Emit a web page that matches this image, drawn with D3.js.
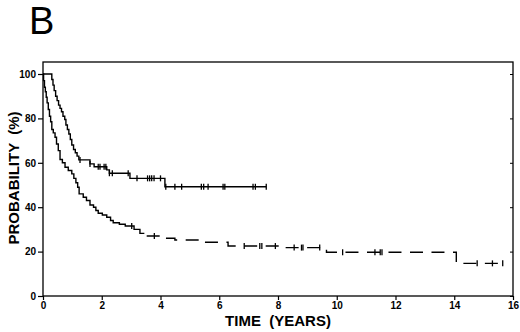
<!DOCTYPE html>
<html lang="en">
<head>
    <meta charset="UTF-8">
    <title>Survival curves B</title>
    <script src="https://cdn.jsdelivr.net/npm/d3@7/dist/d3.min.js" charset="utf-8"></script>
    <style>
        body { margin: 0; background: #fff; }
        text { font-family: Arial, "Liberation Sans", Helvetica, sans-serif; fill: #000; }
    </style>
</head>
<body>
<script>

    // axis ticks
    var xTicks = [0, 2, 4, 6, 8, 10, 12, 14, 16];
    var yTicks = [0, 20, 40, 60, 80, 100];

    // upper curve: step times (years) and survival (%) after each step
    var timesA = [0, 0.30, 0.34, 0.38, 0.43, 0.48, 0.53, 0.58, 0.63, 0.68, 0.74, 0.78, 0.83, 0.88, 0.93,
        0.98, 1.04, 1.10, 1.16, 1.22, 1.60, 1.74, 2.17, 2.26, 2.96, 4.15];
    var survA = [100, 97.5, 95, 92.5, 90, 88, 86, 84.5, 83, 81, 79.5, 77, 75, 73, 70.5,
        68, 66, 64.5, 63, 61.3, 59.5, 58.2, 56.8, 55.3, 53, 49.2];
    var censorA = [1.26, 1.6, 1.88, 1.94, 2.08, 2.14, 2.26, 2.36, 2.9, 3.2, 3.56, 3.63, 3.7, 3.78, 4.0,
        4.18, 4.49, 4.72, 5.39, 5.47, 5.62, 6.13, 6.19, 7.15, 7.23, 7.6];
    var endA = 7.6;

    // lower curve
    var timesB = [0, 0.02, 0.05, 0.08, 0.11, 0.14, 0.18, 0.22, 0.26, 0.30, 0.35, 0.41, 0.46, 0.52, 0.58,
        0.66, 0.75, 0.86, 0.98, 1.05, 1.12, 1.18, 1.23, 1.37, 1.48, 1.60, 1.72, 1.80, 1.88, 2.02,
        2.17, 2.30, 2.39, 2.60, 2.80, 3.10, 3.30, 3.50, 4.15, 4.49, 5.45, 6.30, 8.17, 9.65, 14.07];
    var survB = [100, 97, 94, 92, 89.5, 87, 84, 81, 78.5, 75, 73.5, 71.5, 68.5, 65.5, 61.5,
        60, 58, 56.5, 55, 53, 51, 49, 46, 44.5, 43, 41, 40, 38.5, 37.3, 36.5,
        35.5, 34, 33, 32.3, 31.5, 30, 28.2, 27, 26, 25.2, 24.2, 22.5, 21.8, 19.7, 14.7];
    var censorB = [3.02, 3.79, 6.85, 7.38, 7.45, 7.91, 8.55, 8.8, 8.85, 9.42, 10.2, 11.3, 11.48, 11.54,
        14.78, 15.3, 15.65];
    var endB = 15.65;
    var solidEndB = 3.45;   // lower curve is dashed after this

    // 画布
    var width = 520;
    var height = 332;
    var svg = d3.select("body")
        .append("svg")
        .attr("width", width)
        .attr("height", height);

    var plotLeft = 43, plotRight = 513, plotTop = 62, plotBottom = 296;

    var x = d3.scaleLinear().domain([0, 16]).range([plotLeft, plotRight]);
    var y = d3.scaleLinear().domain([0, 100]).range([plotBottom, 74]);

    // frame
    svg.append("rect")
        .attr("x", plotLeft)
        .attr("y", plotTop)
        .attr("width", plotRight - plotLeft)
        .attr("height", plotBottom - plotTop)
        .attr("fill", "none")
        .attr("stroke", "#000")
        .attr("stroke-width", 1.3);

    // y axis
    var yAxis = svg.append("g")
        .attr("transform", "translate(" + plotLeft + ",0)")
        .call(d3.axisLeft(y).tickValues(yTicks).tickSize(5).tickPadding(2));
    yAxis.select(".domain").remove();
    yAxis.selectAll("line").attr("stroke-width", 1.2);
    yAxis.selectAll("text")
        .style("font-size", "10px")
        .style("font-weight", "bold")
        .style("font-family", "Arial, 'Liberation Sans', sans-serif");

    // right side inner ticks
    var yRight = svg.append("g")
        .attr("transform", "translate(" + plotRight + ",0)")
        .call(d3.axisLeft(y).tickValues(yTicks).tickSize(3).tickFormat(""));
    yRight.select(".domain").remove();

    // x axis
    var xAxis = svg.append("g")
        .attr("transform", "translate(0," + plotBottom + ")")
        .call(d3.axisBottom(x).tickValues(xTicks).tickSize(4).tickPadding(2));
    xAxis.select(".domain").remove();
    xAxis.selectAll("line").attr("stroke-width", 1.2);
    xAxis.selectAll("text")
        .style("font-size", "10px")
        .style("font-weight", "bold")
        .style("font-family", "Arial, 'Liberation Sans', sans-serif");

    // axis titles
    svg.append("text")
        .attr("x", (plotLeft + plotRight) / 2)
        .attr("y", 326)
        .attr("text-anchor", "middle")
        .style("font-size", "15px")
        .style("font-weight", "bold")
        .style("white-space", "pre")
        .text("TIME  (YEARS)");

    svg.append("text")
        .attr("transform", "translate(19,178) rotate(-90)")
        .attr("text-anchor", "middle")
        .style("font-size", "15px")
        .style("font-weight", "bold")
        .style("white-space", "pre")
        .text("PROBABILITY  (%)");

    // panel letter
    svg.append("text")
        .attr("x", 29)
        .attr("y", 34)
        .style("font-size", "38px")
        .text("B");

    // survival value at time t
    function survAt(times, surv, t) {
        var i = d3.bisectRight(times, t) - 1;
        return surv[Math.max(i, 0)];
    }

    // step points from 'from' to 'to'
    function stepPoints(times, surv, from, to) {
        var pts = [[from, survAt(times, surv, from)]];
        times.forEach(function (t) {
            if (t > from && t < to) pts.push([t, survAt(times, surv, t)]);
        });
        pts.push([to, survAt(times, surv, to)]);
        return pts;
    }

    var line = d3.line()
        .x(function (d) { return x(d[0]); })
        .y(function (d) { return y(d[1]); })
        .curve(d3.curveStepAfter);

    function drawCurve(times, surv, from, to, dash) {
        svg.append("path")
            .datum(stepPoints(times, surv, from, to))
            .attr("d", line)
            .attr("fill", "none")
            .attr("stroke", "#000")
            .attr("stroke-width", 1.4)
            .attr("stroke-dasharray", dash || null)
            .attr("stroke-dashoffset", dash ? -5 : null);
    }

    function drawCensor(times, surv, list) {
        svg.append("g").selectAll("line")
            .data(list)
            .enter()
            .append("line")
            .attr("x1", function (d) { return x(d); })
            .attr("x2", function (d) { return x(d); })
            .attr("y1", function (d) { return y(survAt(times, surv, d)) - 3; })
            .attr("y2", function (d) { return y(survAt(times, surv, d)) + 3; })
            .attr("stroke", "#000")
            .attr("stroke-width", 1.3);
    }

    drawCurve(timesA, survA, 0, endA);
    drawCensor(timesA, survA, censorA);

    drawCurve(timesB, survB, 0, solidEndB);
    drawCurve(timesB, survB, solidEndB, endB, "13,8.5");
    drawCensor(timesB, survB, censorB);

</script>
</body>
</html>
